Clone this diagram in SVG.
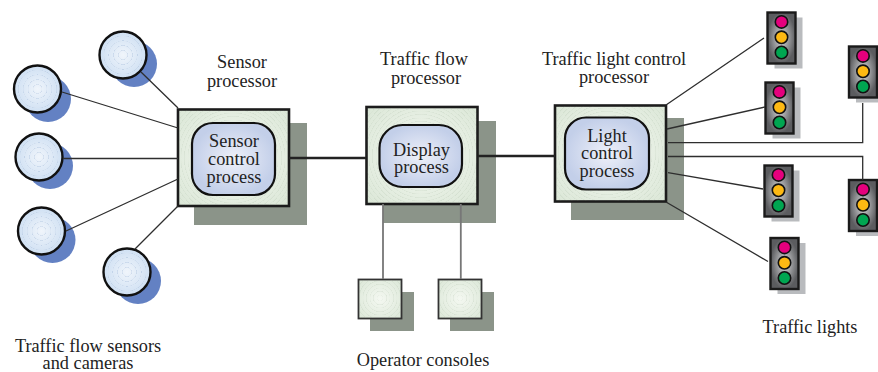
<svg xmlns="http://www.w3.org/2000/svg" xmlns:xlink="http://www.w3.org/1999/xlink" width="878" height="372" viewBox="0 0 878 372">
<style>
text{font-family:"Liberation Serif","Times New Roman",serif;font-size:18.300px;fill:#222;text-anchor:middle}
.shd{fill:#8b9489}
.blue{fill:#6381c3}
.sensor{fill:url(#sensorBase);stroke:#111;stroke-width:2.4}
.ringS{fill:url(#sensorRing)}
.box{stroke:#1c1c1c;stroke-width:2.6}
.con{stroke:#333;stroke-width:1.8}
.inner{fill:url(#innerFill);stroke:#111;stroke-width:2.2}
.lshd{fill:#b9bbbe}
.lbox{fill:url(#lightFill);stroke:#1a1a1a;stroke-width:2.4}
.r{fill:#e5007d}.y{fill:#fdb913}.g{fill:#00a651}
.lamp{stroke:#111;stroke-width:1.6}
.thin{stroke:#2e2e2e;stroke-width:1.3;fill:none}
.gray{stroke:#777;stroke-width:1.8;fill:none}
.thick{stroke:#222;stroke-width:2.4;fill:none}
</style>
<defs>
<radialGradient id="sensorBase"><stop offset="0" stop-color="#f0f5fb"/><stop offset="1" stop-color="#cfe0f3"/></radialGradient>
<radialGradient id="sensorRing" r="0.11" spreadMethod="repeat"><stop offset="0" stop-color="#fff" stop-opacity="0"/><stop offset="0.7" stop-color="#fff" stop-opacity="0"/><stop offset="1" stop-color="#a9bfdc" stop-opacity="0.5"/></radialGradient>
<radialGradient id="innerFill"><stop offset="0" stop-color="#eef0f9"/><stop offset="1" stop-color="#c3cfe9"/></radialGradient>
<radialGradient id="lightFill"><stop offset="0" stop-color="#d8d9db"/><stop offset="1" stop-color="#5b5c5f"/></radialGradient>
<radialGradient id="greenBase" r="0.7"><stop offset="0" stop-color="#f4f8f1"/><stop offset="1" stop-color="#dbe7d7"/></radialGradient>
<radialGradient id="greenRing" gradientUnits="userSpaceOnUse" r="3.500" spreadMethod="repeat"><stop offset="0" stop-color="#b4c4b0" stop-opacity="0"/><stop offset="0.7" stop-color="#b4c4b0" stop-opacity="0"/><stop offset="1" stop-color="#b4c4b0" stop-opacity="0.3"/></radialGradient>
<radialGradient id="rP1" xlink:href="#greenRing" cx="233" cy="158"/>
<radialGradient id="rP2" xlink:href="#greenRing" cx="421" cy="156"/>
<radialGradient id="rP3" xlink:href="#greenRing" cx="607" cy="153"/>
<radialGradient id="rC1" xlink:href="#greenRing" cx="380" cy="298"/>
<radialGradient id="rC2" xlink:href="#greenRing" cx="460" cy="298"/>
<g id="lamps"><circle class="lamp r" cx="14" cy="9.400" r="6.200"/><circle class="lamp y" cx="14" cy="24.800" r="6.200"/><circle class="lamp g" cx="14" cy="40" r="6.200"/></g>
<g id="tl"><rect class="lshd" x="7" y="5" width="28" height="51"/><rect class="lbox" width="28" height="51"/><use href="#lamps"/></g>
</defs>

<g id="sensor-1"><circle class="blue" cx="134" cy="64" r="23"/><circle class="sensor" cx="123" cy="55" r="23.500"/><circle class="ringS" cx="123" cy="55" r="22"/></g>
<g id="sensor-2"><circle class="blue" cx="48" cy="99" r="23"/><circle class="sensor" cx="37.500" cy="89" r="23.500"/><circle class="ringS" cx="37.500" cy="89" r="22"/></g>
<g id="sensor-3"><circle class="blue" cx="50" cy="166" r="23"/><circle class="sensor" cx="39" cy="157" r="23.500"/><circle class="ringS" cx="39" cy="157" r="22"/></g>
<g id="sensor-4"><circle class="blue" cx="52.500" cy="240" r="23"/><circle class="sensor" cx="41.500" cy="231" r="23.500"/><circle class="ringS" cx="41.500" cy="231" r="22"/></g>
<g id="sensor-5"><circle class="blue" cx="138" cy="281" r="23"/><circle class="sensor" cx="127" cy="272" r="23.500"/><circle class="ringS" cx="127" cy="272" r="22"/></g>

<g id="sensor-processor">
<rect class="shd" x="194" y="123" width="113" height="102"/>
<rect class="box" x="178" y="109.500" width="111" height="96.500" fill="url(#greenBase)"/>
<rect x="179.300" y="110.800" width="108.400" height="93.900" fill="url(#rP1)"/>
<rect class="inner" x="192" y="123" width="83" height="72" rx="21"/>
<text x="234" y="147">Sensor</text><text x="234" y="165">control</text><text x="234" y="183">process</text>
</g>
<g id="flow-processor">
<rect class="shd" x="383" y="121" width="113" height="102"/>
<rect class="box" x="366.500" y="107" width="111" height="97" fill="url(#greenBase)"/>
<rect x="367.800" y="108.300" width="108.400" height="94.400" fill="url(#rP2)"/>
<rect class="inner" x="379.500" y="125" width="82.500" height="62" rx="23"/>
<text x="421.500" y="156">Display</text><text x="421.500" y="173">process</text>
</g>
<g id="light-processor">
<rect class="shd" x="571" y="118" width="113" height="102"/>
<rect class="box" x="555" y="105.500" width="111" height="96" fill="url(#greenBase)"/>
<rect x="556.300" y="106.800" width="108.400" height="93.400" fill="url(#rP3)"/>
<rect class="inner" x="565" y="117.500" width="84" height="72" rx="21"/>
<text x="607" y="142">Light</text><text x="607" y="159">control</text><text x="607" y="177">process</text>
</g>
<g id="console-1">
<rect class="shd" x="370" y="292" width="44" height="39"/>
<rect class="con" x="358.500" y="279.500" width="43" height="39" fill="url(#greenBase)"/>
<rect x="359.500" y="280.500" width="41" height="37" fill="url(#rC1)"/>
</g>
<g id="console-2">
<rect class="shd" x="450" y="292" width="44" height="39"/>
<rect class="con" x="438.500" y="279.500" width="43" height="39" fill="url(#greenBase)"/>
<rect x="439.500" y="280.500" width="41" height="37" fill="url(#rC2)"/>
</g>
<g id="light-1"><use href="#tl" x="767.500" y="12.500"/></g>
<g id="light-2"><use href="#tl" x="765.500" y="82.500"/></g>
<g id="light-3"><use href="#tl" x="849" y="46.500"/></g>
<g id="light-4"><use href="#tl" x="764.500" y="165.500"/></g>
<g id="light-5"><use href="#tl" x="849" y="180"/></g>
<g id="light-6"><use href="#tl" x="770.500" y="238"/></g>

<g id="connectors">
<path class="thin" d="M141 72L178 108M62 92L178 128M63 158.500H178M66 231L178 179M135 249L178 206"/>
<path class="thick" d="M289 158H366M478 156H555"/>
<path class="gray" d="M383 204V279M460.800 204V279"/>
<path class="thin" d="M666 105L764 38M667 129L765 107M668 172.700L763 189M666 202L768 261.500"/>
<path class="thin" d="M668 142.700H862.700V103"/>
<path class="thin" d="M668 156.500H862.700V180"/>
</g>

<g id="labels">
<text x="242" y="68">Sensor</text><text x="242" y="87">processor</text>
<text x="424" y="65">Traffic flow</text><text x="426" y="84">processor</text>
<text x="614" y="65">Traffic light control</text><text x="614" y="83">processor</text>
<text x="88" y="352">Traffic flow sensors</text><text x="88" y="369">and cameras</text>
<text x="423" y="366">Operator consoles</text>
<text x="810" y="333">Traffic lights</text>
</g>
</svg>
